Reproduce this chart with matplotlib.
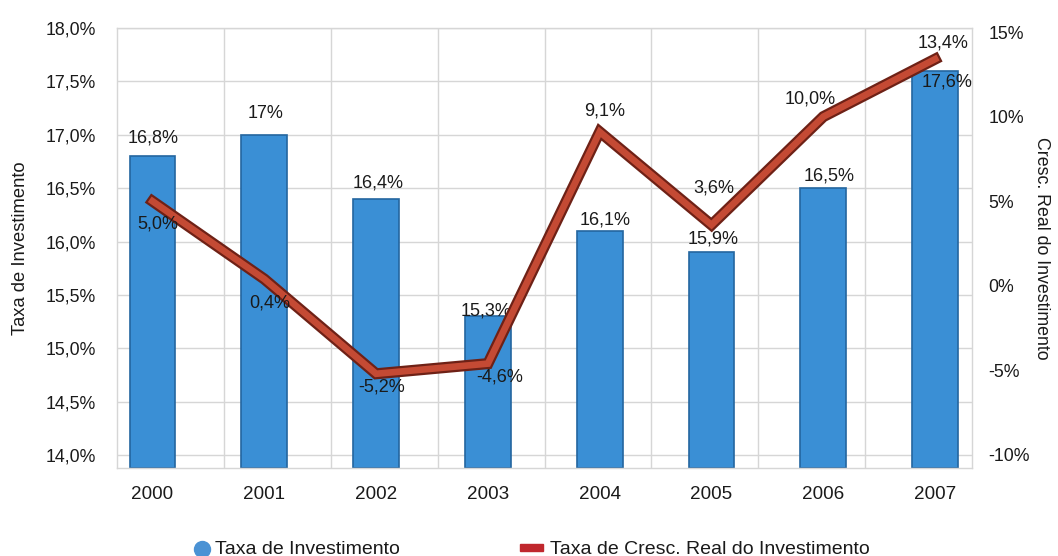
import matplotlib
matplotlib.use("Agg")
import matplotlib.pyplot as plt
import matplotlib.patheffects as pe
from matplotlib.lines import Line2D
from matplotlib.patches import Rectangle
import numpy as np

plt.rcParams['font.family'] = ['Liberation Sans', 'DejaVu Sans']

years = ["2000", "2001", "2002", "2003", "2004", "2005", "2006", "2007"]
taxa_invest = [16.8, 17.0, 16.4, 15.3, 16.1, 15.9, 16.5, 17.6]
taxa_labels = ["16,8%", "17%", "16,4%", "15,3%", "16,1%", "15,9%", "16,5%", "17,6%"]
cresc_real = [5.0, 0.4, -5.2, -4.6, 9.1, 3.6, 10.0, 13.4]
cresc_labels = ["5,0%", "0,4%", "-5,2%", "-4,6%", "9,1%", "3,6%", "10,0%", "13,4%"]
left_ticks = [14.0, 14.5, 15.0, 15.5, 16.0, 16.5, 17.0, 17.5, 18.0]
left_tick_labels = ["14,0%", "14,5%", "15,0%", "15,5%", "16,0%", "16,5%", "17,0%", "17,5%", "18,0%"]
right_ticks = [-10, -5, 0, 5, 10, 15]
right_tick_labels = ["-10%", "-5%", "0%", "5%", "10%", "15%"]

W, H = 1058, 556
fig = plt.figure(figsize=(W / 100, H / 100), dpi=100)
ax = fig.add_axes([117 / W, 1 - 468 / H, (972 - 117) / W, (468 - 28) / H])

x = np.arange(len(years))
ymin = 13.88
ax.set_ylim(ymin, 18.0)
ax.set_xlim(-0.3175, 7.33)

txt_c = '#1a1a1a'
grid_c = '#d6d6d6'
for t in left_ticks:
    ax.axhline(t, color=grid_c, lw=1.0, zorder=0)
for k in range(1, 8):
    ax.plot([k / 8, k / 8], [0, 1], transform=ax.transAxes, color=grid_c, lw=1.0, zorder=0)
for s in ax.spines.values():
    s.set_color(grid_c)
    s.set_linewidth(1.0)

heights = [v - ymin for v in taxa_invest]
ax.bar(x, heights, bottom=ymin, width=0.41, color='#3a8fd5', edgecolor='#24669f',
       linewidth=1.2, zorder=2)

ax.set_yticks(left_ticks)
ax.set_yticklabels(left_tick_labels)
ax.set_xticks(x)
ax.set_xticklabels(years)
ax.tick_params(axis='both', length=0, colors=txt_c)
ax.tick_params(axis='y', pad=15, labelsize=12.8)
ax.tick_params(axis='x', pad=13, labelsize=13.6)
ax.set_ylabel("Taxa de Investimento", fontsize=13.2, color=txt_c, labelpad=12)

lab_fs = 13
bar_offsets = [(1, 10), (1, 13), (2, 7), (-2, -3), (5, 2), (2, 5), (6, 4), (12, -20)]
for i, (lab, off) in enumerate(zip(taxa_labels, bar_offsets)):
    ax.annotate(lab, (x[i], taxa_invest[i]), xytext=off, textcoords='offset pixels',
                ha='center', va='bottom', fontsize=lab_fs, color=txt_c, zorder=5)

ax2 = ax.twinx()
ax2.set_ylim(-10.77, 15.24)
ax2.set_yticks(right_ticks)
ax2.set_yticklabels(right_tick_labels)
ax2.tick_params(axis='y', length=0, labelsize=12.8, colors=txt_c, pad=12)
for s in ax2.spines.values():
    s.set_visible(False)
ax2.set_ylabel("Cresc. Real do Investimento", fontsize=12.8, color=txt_c,
               rotation=-90, labelpad=14)

ax2.plot(x, cresc_real, color='#c44a34', lw=4.8, solid_joinstyle='miter', zorder=4,
         path_effects=[pe.Stroke(linewidth=8, foreground='#6e2116'), pe.Normal()])

line_offsets = [(5, -31), (5, -32), (6, -22), (12, -22), (5, 12), (2, 28), (-13, 9), (8, 8)]
for i, (lab, off) in enumerate(zip(cresc_labels, line_offsets)):
    ax2.annotate(lab, (x[i], cresc_real[i]), xytext=off, textcoords='offset pixels',
                 ha='center', va='bottom', fontsize=lab_fs, color=txt_c, zorder=6)

# legend
fig.add_artist(Line2D([202 / W], [1 - 549 / H], marker='o', markersize=11.5,
                      color='#4a92d4', transform=fig.transFigure, linestyle='none'))
fig.text(215 / W, 1 - 549 / H, "Taxa de Investimento", fontsize=14, va='center',
         ha='left', color=txt_c)
fig.add_artist(Rectangle((520 / W, 1 - 551 / H), 23 / W, 7 / H, color='#c0272d',
                         transform=fig.transFigure))
fig.text(550 / W, 1 - 549 / H, "Taxa de Cresc. Real do Investimento", fontsize=14,
         va='center', ha='left', color=txt_c)

fig.savefig("out.png", dpi=100)
